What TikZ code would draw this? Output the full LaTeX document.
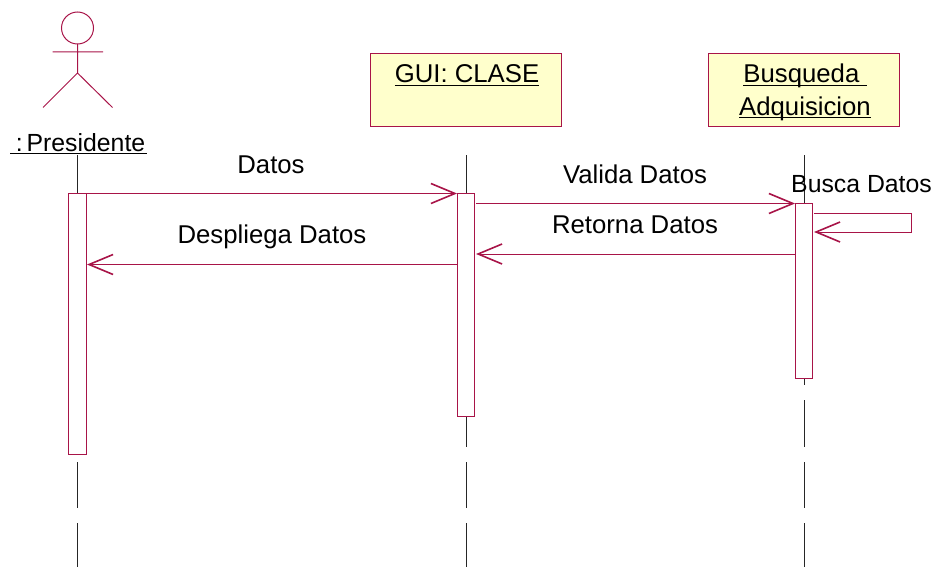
\documentclass[tikz,border=0pt]{standalone}
\usepackage{fontspec}
\setmainfont{Liberation Sans}
\usetikzlibrary{arrows.meta}
\definecolor{umlline}{RGB}{168,20,72}
\definecolor{umlfill}{RGB}{255,255,204}
\newcommand{\ultext}[1]{\setbox0\hbox{#1}\rlap{\vrule width\wd0 height-1.3pt depth2.4pt}\box0}
\tikzset{
	objbox/.style={draw=umlline,fill=umlfill,line width=0.75pt,minimum width=143pt,minimum height=55pt,inner sep=0pt,anchor=north west},
	bar/.style={draw=umlline,fill=white,line width=0.75pt},
	msg/.style={draw=umlline,line width=0.75pt,-{Straight Barb[length=18pt,width=15pt,line width=1.2pt]}},
	life/.style={line width=0.7pt,black!85},
	txt/.style={font=\fontsize{19.3pt}{23pt}\selectfont,inner sep=0pt}
}
\begin{document}
\begin{tikzpicture}[x=0.75pt,y=-0.75pt]
	\useasboundingbox (0,0) rectangle (934,567);
	% lifelines
	\draw[life] (77.5,155)--(77.5,193);
	\draw[life] (77.5,462)--(77.5,508);
	\draw[life] (77.5,523)--(77.5,567);
	\draw[life] (466,155)--(466,193);
	\draw[life] (466,416)--(466,447);
	\draw[life] (466,462)--(466,508);
	\draw[life] (466,523)--(466,567);
	\draw[life] (804,155)--(804,203);
	\draw[life] (804,378)--(804,385);
	\draw[life] (804,400)--(804,447);
	\draw[life] (804,462)--(804,508);
	\draw[life] (804,523)--(804,567);
	% actor
	\draw[umlline,line width=0.75pt] (77.5,28) circle (16);
	\draw[umlline,line width=0.75pt] (77.5,44)--(77.5,73) (52.5,52)--(103,52) (43,107.5)--(77.5,73)--(112.5,107.5);
	\node[txt,anchor=base,font=\fontsize{18.6pt}{23pt}\selectfont] (pres) at (78.5,151) {\ultext{\kern4pt:\kern3pt Presidente\kern1pt}};
	% objects
	\node[objbox] (gui) at (370,53) {};
	\node[txt,anchor=base] (guit) at (467,83) {\ultext{GUI: CLASE}};
	\node[objbox] (busq) at (708,53) {};
	\node[txt,anchor=base] (busq1) at (805,83) {\ultext{Busqueda\ }};
	\node[txt,anchor=base] (busq2) at (805,115) {\ultext{Adquisicion}};
	% bars
	\draw[bar] (68.5,193)rectangle(86,454);
	\draw[bar] (457,193)rectangle(474.5,416);
	\draw[bar] (795,203)rectangle(812.5,378);
	% messages
	\coordinate (m1a) at (86,193.5); \coordinate (m1b) at (457,193.5);
	\coordinate (m2a) at (476,203.5); \coordinate (m2b) at (795,203.5);
	\coordinate (m3a) at (795,254); \coordinate (m3b) at (476,254);
	\coordinate (m4a) at (457,264.5); \coordinate (m4b) at (87,264.5);
	\draw[msg] (m1a)--(m1b);
	\draw[msg] (m2a)--(m2b);
	\draw[msg] (m3a)--(m3b);
	\draw[msg] (m4a)--(m4b);
	\draw[msg] (814,213)--(911,213)--(911,232)--(814,232);
	\node[txt,anchor=base] (t1) at (271,173.5) {Datos};
	\node[txt,anchor=base] (t2) at (635,183.5) {Valida Datos};
	\node[txt,anchor=base] (t3) at (635,233.5) {Retorna Datos};
	\node[txt,anchor=base] (t4) at (272,243) {Despliega Datos};
	\node[txt,anchor=base,font=\fontsize{18.6pt}{23pt}\selectfont] (t5) at (861.5,192.5) {Busca Datos};
\end{tikzpicture}
\end{document}
